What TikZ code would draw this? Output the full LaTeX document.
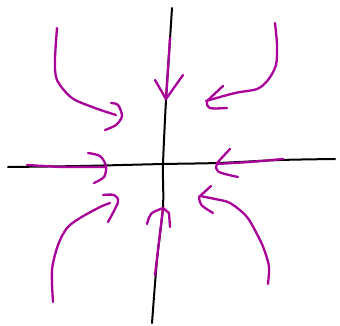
\documentclass[tikz,border=0pt]{standalone}
\usepackage{tikz}
\definecolor{pen}{RGB}{168,0,152}

\begin{document}
\begin{tikzpicture}[x=1pt,y=-1pt,
		axis/.style={line width=2pt, line cap=round, black},
		flow/.style={line width=2.3pt, line cap=round, line join=round, color=pen}]
		\useasboundingbox (0,0) rectangle (340,325);
		% axes
		\draw[axis] plot[smooth] coordinates {(172,8) (169,55) (166,100) (163,165) (163,207) (157,260) (152,323)};
		\draw[axis] plot[smooth] coordinates {(8,167) (80,166) (163,164) (217,163) (280,160) (335,159)};
		% top left
		\draw[flow] plot[smooth] coordinates {(57,28) (55,60) (57,80) (72,98) (95,108) (116,115)};
		\draw[flow] plot[smooth] coordinates {(111,103) (118,105) (122,116) (116,125) (105,130)};
		% top
		\draw[flow] (170,38) -- (166,99);
		\draw[flow] (155,80) -- (166,99) -- (183,75);
		% top right
		\draw[flow] plot[smooth] coordinates {(275,23) (277,45) (276,65) (268,80) (257,89) (235,93) (206,101)};
		\draw[flow] (223,86) -- (207,101) .. controls (207,109) .. (227,108);
		% left
		\draw[flow] (27,165) -- (60,167) -- (106,167);
		\draw[flow] plot[smooth] coordinates {(88,153) (100,156) (106,166) (104,177) (94,183)};
		% right
		\draw[flow] (283,159) -- (250,162) -- (217,164);
		\draw[flow] (230,149) -- (217,163) .. controls (215,172) .. (238,177);
		% bottom left
		\draw[flow] plot[smooth] coordinates {(53,302) (52,270) (58,245) (67,228) (80,218) (100,207) (110,203)};
		\draw[flow] plot[smooth] coordinates {(103,195) (114,195) (118,202) (108,222)};
		% bottom
		\draw[flow] (155,275) -- (163,208);
		\draw[flow] (147,224) .. controls (150,213) .. (163,208) -- (169,213) -- (170,227);
		% bottom right
		\draw[flow] plot[smooth] coordinates {(268,284) (269,267) (265,252) (260,240) (247,217) (230,203) (215,199) (200,196)};
		\draw[flow] (211,186) -- (199,197) .. controls (200,205) .. (213,213);
	\end{tikzpicture}
\end{document}
